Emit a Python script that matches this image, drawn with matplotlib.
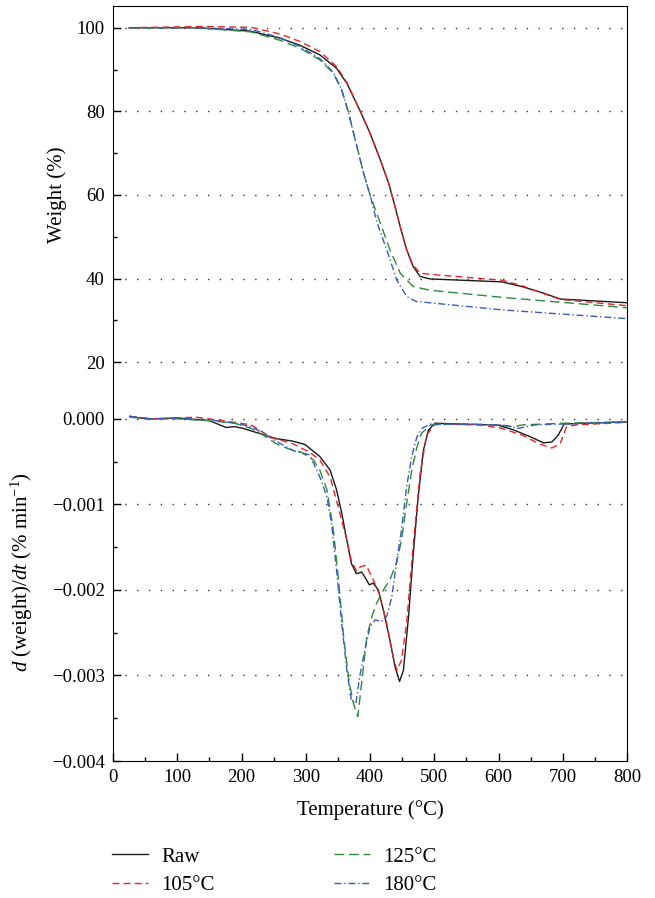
import matplotlib
matplotlib.use("Agg")
import matplotlib.pyplot as plt
from matplotlib.ticker import MultipleLocator, FuncFormatter

plt.rcParams['font.family'] = ['Liberation Serif', 'DejaVu Serif']
plt.rcParams['mathtext.fontset'] = 'custom'
plt.rcParams['mathtext.rm'] = 'Liberation Serif'
plt.rcParams['mathtext.it'] = 'Liberation Serif:italic'

# ---------------- data ----------------
labels = ["Raw", "105°C", "125°C", "180°C"]
colors = ["#1a1a1a", "#e3262b", "#2e8b3e", "#3a5cb8"]

# TGA weight (%)
t_raw = [25, 130, 213, 260, 291, 322, 348, 364, 384, 400, 416, 429, 439, 447, 457, 467, 478, 493,
         605, 638, 670, 696, 800]
w_raw = [100, 100, 99.2, 97.5, 95.8, 93.5, 90.3, 86.7, 80.3, 74.8, 68.4, 62.8, 57.2, 52.4, 46.9, 42.9,
         40.5, 39.9, 39.2, 38.0, 36.5, 35.1, 34.2]
t_105 = [25, 140, 215, 260, 291, 322, 348, 364, 384, 400, 416, 429, 439, 447, 457, 467, 478, 493,
         605, 638, 670, 696, 800]
w_105 = [100, 100.3, 100.1, 98.5, 96.7, 94.3, 90.7, 86.9, 80.3, 74.8, 68.4, 62.8, 57.2, 52.4, 46.9, 43.2,
         41.3, 41.0, 39.6, 38.2, 36.4, 35.0, 33.5]
t_125 = [25, 130, 215, 260, 291, 322, 343, 356, 366, 377, 390, 400, 416, 431, 447, 467, 493, 605, 800]
w_125 = [100, 100, 99.0, 97.0, 95.1, 92.3, 89.1, 85.1, 80.0, 73.2, 65.2, 60.0, 53.3, 46.9, 41.3, 38.1,
         37.2, 35.5, 33.0]
t_180 = [25, 130, 215, 260, 291, 322, 343, 356, 366, 377, 390, 400, 411, 426, 442, 457, 472, 493, 605, 800]
w_180 = [100, 100, 99.6, 97.6, 95.5, 92.6, 89.3, 85.1, 80.0, 73.2, 65.2, 60.0, 53.3, 46.9, 39.5, 35.7,
         34.5, 34.2, 32.5, 30.4]

# DTG d(weight)/dt
dt_raw = [26, 52, 100, 150, 176, 189, 202, 228, 254, 280, 299, 322, 338, 348, 356, 364, 371, 379, 387,
          392, 399, 405, 413, 421, 431, 439, 446, 452, 460, 467, 475, 483, 491, 501, 540, 598, 624, 650,
          670, 683, 693, 702, 735, 800]
d_raw = [0.00003, 0.0, 0.00001, -0.00002, -0.0001, -0.00009, -0.00011, -0.00017, -0.00023, -0.00026,
         -0.0003, -0.00044, -0.0006, -0.00083, -0.0011, -0.00142, -0.00169, -0.00181, -0.00179,
         -0.00185, -0.00194, -0.00192, -0.002, -0.00224, -0.00259, -0.0029, -0.00307, -0.00294,
         -0.00231, -0.00161, -0.00091, -0.00037, -0.00013, -0.00005, -0.00006, -0.00007, -0.00013,
         -0.00021, -0.00028, -0.00027, -0.00019, -0.00006, -0.00005, -0.000035]
dt_105 = [26, 60, 130, 189, 215, 228, 247, 280, 306, 322, 338, 353, 364, 371, 379, 385, 394, 405, 414,
          426, 436, 442, 449, 457, 467, 478, 488, 501, 572, 605, 637, 663, 683, 696, 706, 722, 800]
d_105 = [0.00003, 0.0, 0.00002, -0.00004, -0.00007, -0.00013, -0.00022, -0.00029, -0.00039, -0.00048,
         -0.00068, -0.0011, -0.00142, -0.00166, -0.00178, -0.00173, -0.00171, -0.00188, -0.00204,
         -0.00239, -0.00278, -0.00294, -0.00282, -0.00239, -0.0015, -0.00064, -0.00019, -0.00006,
         -0.00007, -0.00011, -0.00019, -0.00029, -0.00034, -0.00029, -0.00009, -0.00007, -0.00004]
dt_125 = [26, 60, 100, 150, 189, 215, 234, 254, 273, 293, 312, 322, 333, 343, 351, 359, 367, 374, 381,
          387, 395, 403, 410, 421, 431, 441, 449, 457, 465, 473, 480, 494, 540, 598, 624, 637, 702, 800]
d_125 = [0.00002, 0.0, 0.0, -0.00002, -0.00005, -0.00011, -0.00019, -0.00029, -0.00035, -0.00039,
         -0.00048, -0.0006, -0.00083, -0.0013, -0.00188, -0.00255, -0.00305, -0.00332, -0.00348,
         -0.00309, -0.00255, -0.00231, -0.00216, -0.002, -0.00188, -0.00169, -0.00142, -0.00099,
         -0.0006, -0.00033, -0.00017, -0.00007, -0.00006, -0.00007, -0.00009, -0.00007, -0.00005,
         -0.000035]
dt_180 = [26, 60, 100, 150, 189, 215, 234, 254, 280, 306, 322, 333, 340, 348, 356, 364, 371, 378, 384,
          392, 400, 408, 418, 426, 434, 441, 449, 457, 465, 473, 481, 494, 605, 631, 657, 800]
d_180 = [0.00003, 0.0, 0.00001, -0.00001, -0.00005, -0.00009, -0.00017, -0.00026, -0.00037, -0.00042,
         -0.00068, -0.00091, -0.00122, -0.00177, -0.00239, -0.00294, -0.00329, -0.00333, -0.00301,
         -0.0027, -0.00243, -0.00235, -0.00237, -0.00231, -0.00208, -0.00169, -0.0013, -0.00079,
         -0.00044, -0.00021, -0.00011, -0.00006, -0.00007, -0.00011, -0.00007, -0.000035]

styles = ["-", (0, (5, 3)), (0, (7, 3.5)), (0, (5, 2, 1, 2))]
tga = [(t_raw, w_raw), (t_105, w_105), (t_125, w_125), (t_180, w_180)]
dtg = [(dt_raw, d_raw), (dt_105, d_105), (dt_125, d_125), (dt_180, d_180)]

# ---------------- figure ----------------
W, H = 655, 898
fig = plt.figure(figsize=(W / 100, H / 100), dpi=100)
L, R = 113 / W, 627 / W
ax1 = fig.add_axes([L, 1 - 383 / H, R - L, (383 - 6) / H])
ax2 = fig.add_axes([L, 1 - 761 / H, R - L, (761 - 383) / H])

grid_kw = dict(color="#333333", linestyle=(0, (1, 7.5)), linewidth=1.0, zorder=0)

handles = []
for (t, w), (td, d), c, ls, lab in zip(tga, dtg, colors, styles, labels):
    ax1.plot(t, w, color=c, linestyle=ls, linewidth=1.0)
    h, = ax2.plot(td, d, color=c, linestyle=ls, linewidth=1.0, label=lab)
    handles.append(h)

for ax in (ax1, ax2):
    ax.set_xlim(0, 800)
    ax.tick_params(which="both", direction="in", labelsize=13.5, pad=6)
    ax.tick_params(which="major", length=6, width=1)
    ax.tick_params(which="minor", length=3, width=1)

# top panel
ax1.set_ylim(15, 105.2)
ax1.yaxis.set_major_locator(MultipleLocator(20))
ax1.yaxis.set_minor_locator(MultipleLocator(10))
ax1.spines["bottom"].set_visible(False)
ax1.tick_params(axis="x", which="both", bottom=False, labelbottom=False)
ax1.set_ylabel("Weight (%)", fontsize=15)
ax1.yaxis.set_label_coords(-0.0895, 0.5)
for v in [20, 40, 60, 80, 100]:
    ax1.axhline(v, **grid_kw)

# bottom panel
ax2.set_ylim(-0.004, 0.00042)
ax2.yaxis.set_major_locator(MultipleLocator(0.001))
ax2.yaxis.set_minor_locator(MultipleLocator(0.0005))
ax2.xaxis.set_major_locator(MultipleLocator(100))
ax2.xaxis.set_minor_locator(MultipleLocator(50))
ax2.yaxis.set_major_formatter(FuncFormatter(lambda v, p: ("%.3f" % v).replace("-", "\u2212").replace("\u22120.000", "0.000")))
ax2.spines["top"].set_visible(False)
ax2.set_ylabel(r"$d$ (weight)/$dt$ (% min$^{\mathregular{-1}}$)", fontsize=15)
ax2.yaxis.set_label_coords(-0.152, 0.5)
for v in [0.0, -0.001, -0.002, -0.003]:
    ax2.axhline(v, **grid_kw)

fig.text(370 / W, 1 - 810 / H, "Temperature (°C)", ha="center", va="center", fontsize=15)

fig.legend(handles=handles, loc="upper left", bbox_to_anchor=(112 / W, 1 - 847 / H),
           ncol=2, frameon=False, fontsize=15, handlelength=1.75, handletextpad=0.63,
           columnspacing=5.7, labelspacing=0.42, borderpad=0, borderaxespad=0)

fig.savefig("out.png", dpi=100)
